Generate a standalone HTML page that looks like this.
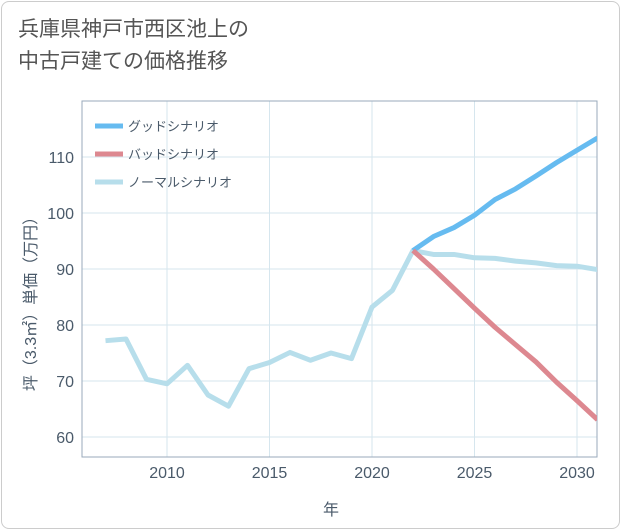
<!DOCTYPE html>
<html><head><meta charset="utf-8">
<style>
body{margin:0;background:#fff;font-family:"Liberation Sans","Noto Sans CJK JP",sans-serif;}
#card{position:absolute;left:1px;top:1px;width:617px;height:526px;border:1px solid #ccc;border-radius:8px;background:#fff;}
#title{position:absolute;left:18px;top:14px;font-size:21px;line-height:32px;color:#555;}
svg{position:absolute;left:0;top:0;}
</style></head><body>
<div id="card"></div>
<div id="title">兵庫県神戸市西区池上の<br>中古戸建ての価格推移</div>
<svg id="chart" width="621" height="530"></svg>
<script>
const years=[2007,2008,2009,2010,2011,2012,2013,2014,2015,2016,2017,2018,2019,2020,2021,2022,2023,2024,2025,2026,2027,2028,2029,2030,2031];
const normal=[77.2,77.5,70.3,69.5,72.8,67.5,65.5,72.2,73.3,75.1,73.7,75.0,74.0,83.2,86.2,93.3,92.6,92.6,92.0,91.9,91.4,91.1,90.6,90.5,89.9];
const futureYears=[2022,2023,2024,2025,2026,2027,2028,2029,2030,2031];
const good=[93.3,95.8,97.4,99.6,102.4,104.3,106.6,109.0,111.2,113.4];
const bad=[93.3,90.0,86.5,83.0,79.6,76.5,73.4,69.8,66.5,63.1];
const xTicks=[2010,2015,2020,2025,2030];
const yTicks=[60,70,80,90,100,110];
const L=82,R=597,T=101,B=457;
const x=v=>167+(v-2010)*20.5;
const y=v=>437-(v-60)*5.6;
const svg=document.getElementById('chart');
const NS='http://www.w3.org/2000/svg';
const TXT='#4a5a6a';
function mk(t,a){const e=document.createElementNS(NS,t);for(const k in a)e.setAttribute(k,a[k]);svg.appendChild(e);return e;}
xTicks.forEach(v=>{
 const g=mk('line',{x1:x(v),x2:x(v),y1:T,y2:B,stroke:'#d6e6ee','stroke-width':1});
 
 
 const t=mk('text',{x:x(v),y:B+21,'text-anchor':'middle','font-size':16,fill:TXT});
 t.textContent=v;
 
 
});
yTicks.forEach(v=>{
 const g=mk('line',{x1:L,x2:R,y1:y(v),y2:y(v),stroke:'#d6e6ee','stroke-width':1});
 
 
 const t=mk('text',{x:L-8,y:y(v)+6,'text-anchor':'end','font-size':16,fill:TXT});
 t.textContent=v;
 
 
});
const frame=mk('rect',{x:L,y:T,width:R-L,height:B-T,fill:'none',stroke:'#9ab',"stroke-width":1});


function line(xs,vs,color,name){
 const p=mk('polyline',{points:xs.map((d,i)=>x(d)+','+y(vs[i])).join(' '),fill:'none',stroke:color,'stroke-width':5,'stroke-linejoin':'round'});
 
 
}
const clip=mk('clipPath',{id:'c'});
const cr=document.createElementNS(NS,'rect');cr.setAttribute('x',L);cr.setAttribute('y',T);cr.setAttribute('width',R-L);cr.setAttribute('height',B-T);clip.appendChild(cr);
line(years,normal,'#b7deeb','normal-line');
line(futureYears,good,'#66bbf0','good-line');
line(futureYears,bad,'#dd8890','bad-line');
svg.querySelectorAll('polyline').forEach(p=>p.setAttribute('clip-path','url(#c)'));
const leg=[['グッドシナリオ','#66bbf0'],['バッドシナリオ','#dd8890'],['ノーマルシナリオ','#b7deeb']];
leg.forEach((d,i)=>{
 const ly=126+i*28;
 const l=mk('line',{x1:95,x2:123,y1:ly,y2:ly,stroke:d[1],'stroke-width':5});
 
 
 const t=mk('text',{x:128,y:ly+5,'font-size':13,fill:TXT});
 t.textContent=d[0];
 
 
});
const xt=mk('text',{x:331,y:515,'text-anchor':'middle','font-size':16,fill:TXT});
xt.textContent='年';


const yt=mk('text',{x:0,y:0,'text-anchor':'middle','font-size':16,fill:TXT,transform:'translate(36,300) rotate(-90)'});
yt.textContent='坪（3.3㎡）単価（万円）';


</script>
</body></html>
